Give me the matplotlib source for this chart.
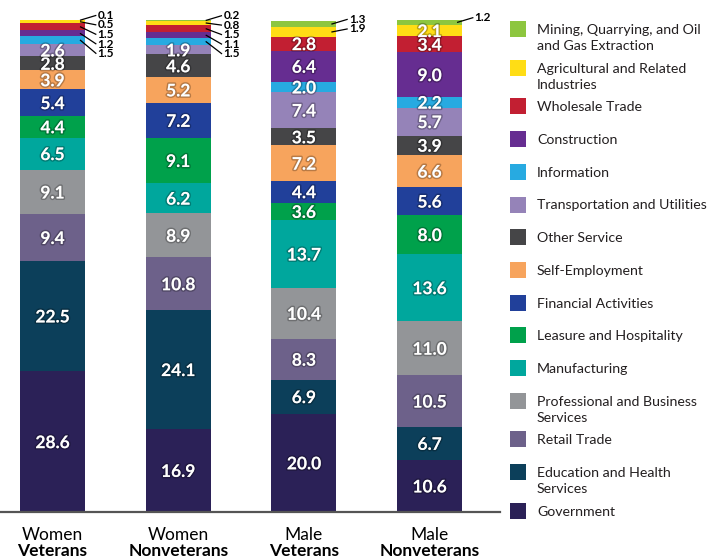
import numpy as np
import matplotlib
matplotlib.use("Agg")
import matplotlib.pyplot as plt
from matplotlib.patches import Rectangle
from matplotlib import patheffects

plt.rcParams['font.family'] = ['Lato', 'DejaVu Sans']

# groups on the x axis
group_top = ["Women", "Women", "Male", "Male"]
group_bottom = ["Veterans", "Nonveterans", "Veterans", "Nonveterans"]

# industries, bottom of the stack first
industries = [
    "Government",
    "Education and Health\nServices",
    "Retail Trade",
    "Professional and Business\nServices",
    "Manufacturing",
    "Leasure and Hospitality",
    "Financial Activities",
    "Self-Employment",
    "Other Service",
    "Transportation and Utilities",
    "Information",
    "Construction",
    "Wholesale Trade",
    "Agricultural and Related\nIndustries",
    "Mining, Quarrying, and Oil\nand Gas Extraction",
]
colors = [
    "#2b2157", "#0c3f5a", "#6d618a", "#939598", "#00a79d",
    "#00a14b", "#21409a", "#f7a45d", "#454547", "#9583b8",
    "#27aae1", "#662d91", "#c21f32", "#ffdd15", "#8dc63f",
]

# percent share, same order as industries
women_vet = [28.6, 22.5, 9.4, 9.1, 6.5, 4.4, 5.4, 3.9, 2.8, 2.6, 1.5, 1.2, 1.5, 0.5, 0.1]
women_nonvet = [16.9, 24.1, 10.8, 8.9, 6.2, 9.1, 7.2, 5.2, 4.6, 1.9, 1.5, 1.1, 1.5, 0.8, 0.2]
male_vet = [20.0, 6.9, 8.3, 10.4, 13.7, 3.6, 4.4, 7.2, 3.5, 7.4, 2.0, 6.4, 2.8, 1.9, 1.3]
male_nonvet = [10.6, 6.7, 10.5, 11.0, 13.6, 8.0, 5.6, 6.6, 3.9, 5.7, 2.2, 9.0, 3.4, 2.1, 1.2]

# how many top segments get an outside label with a leader line
n_callout = [5, 5, 2, 1]

series = np.array([women_vet, women_nonvet, male_vet, male_nonvet])

W, H = 709, 560
fig = plt.figure(figsize=(W / 100, H / 100), dpi=100)
ax = fig.add_axes([0, 48 / H, 500 / W, 492 / H])


def fpx(x, y):
    return x / W, 1 - y / H


x = np.arange(len(group_top))
bw = 0.517
shadow = [patheffects.withStroke(linewidth=2.2, foreground=(0, 0, 0, 0.25))]

for j in range(len(x)):
    vals = series[j]
    bottoms = np.concatenate([[0], np.cumsum(vals)[:-1]])
    n_out = n_callout[j]
    n_in = len(vals) - n_out
    for i, (v, b) in enumerate(zip(vals, bottoms)):
        ax.bar(x[j], v, bw, bottom=b, color=colors[i], linewidth=0)
        if i < n_in:
            ax.text(x[j], b + v / 2, f"{v:.1f}", ha="center", va="center_baseline",
                    color="white", fontsize=12.5, fontweight="bold", path_effects=shadow)
    # callouts for thin segments at the top
    right = x[j] + bw / 2
    prev = None
    for k, i in enumerate(range(len(vals) - 1, n_in - 1, -1)):
        c = bottoms[i] + vals[i] / 2
        ly = c + 1.0 if prev is None else min(c + 1.0, prev - 1.95)
        prev = ly
        ax.plot([right - 0.04, right + 0.09], [c, ly], color="black", lw=0.9,
                clip_on=False, solid_capstyle="butt")
        ax.text(right + 0.1, ly, f"{vals[i]:.1f}", ha="left", va="center",
                fontsize=8.5, fontweight="bold", clip_on=False)

ax.set_xlim(-0.418, 3.56)
ax.set_ylim(0, 100)
for s in ["top", "right", "left"]:
    ax.spines[s].set_visible(False)
ax.spines["bottom"].set_color("#555555")
ax.spines["bottom"].set_linewidth(1.6)
ax.set_xticks([])
ax.set_yticks([])
ax.patch.set_alpha(0)

# two-line group labels
for j in range(len(x)):
    xf = ax.transData.transform((x[j], 0))[0] / W
    fig.text(xf, 1 - 534 / H, group_top[j], ha="center", va="center_baseline", fontsize=12.5)
    fig.text(xf, 1 - 549 / H, group_bottom[j], ha="center", va="center_baseline",
             fontsize=12.5, fontweight="bold")

# legend, top entry is the top of the stack
cy = 29
prev_lines = 1
for i in range(len(industries) - 1, -1, -1):
    lines = industries[i].split("\n")
    if i != len(industries) - 1:
        cy += 32.7 + (6 if prev_lines > 1 else 0)
    x0, y0 = fpx(510, cy + 8)
    fig.add_artist(Rectangle((x0, y0), 16 / W, 16 / H, transform=fig.transFigure,
                             color=colors[i], linewidth=0))
    for k, ln in enumerate(lines):
        tx, ty = fpx(537, cy + 16 * k)
        fig.text(tx, ty, ln, ha="left", va="center_baseline", fontsize=10.2, color="#231f20")
    prev_lines = len(lines)

fig.savefig("out.png", dpi=100)
